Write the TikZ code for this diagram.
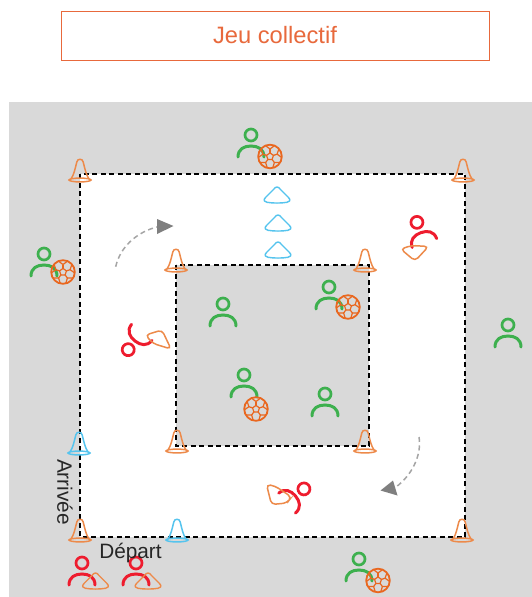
\documentclass[tikz,border=0pt]{standalone}
\usepackage{fontspec}
\setmainfont{Liberation Sans}
\definecolor{bgg}{HTML}{D9D9D9}
\definecolor{ttl}{HTML}{E8693C}
\definecolor{cor}{HTML}{ED8A4A}
\definecolor{cbl}{HTML}{55C4EE}
\definecolor{pgr}{HTML}{3DB04E}
\definecolor{pre}{HTML}{EE1C2E}
\definecolor{bor}{HTML}{E9671F}
\definecolor{agr}{HTML}{7F7F7F}
\tikzset{
  pics/person/.style={code={
    \draw[#1,line width=3pt,line cap=round] (-13,11) .. controls (-13,3) and (-7,0) .. (0,0) .. controls (7,0) and (13,3) .. (13,11);
    \draw[#1,line width=2.7pt] (0,-11) circle [radius=6pt];
  }},
  pics/tallcone/.style={code={
    \draw[#1,line width=1.5pt,line join=round] (-9,20) .. controls (-6,16) and (-4.5,8) .. (-3.2,3) .. controls (-2.5,-0.7) and (2.5,-0.7) .. (3.2,3) .. controls (4.5,8) and (6,16) .. (9,20);
    \draw[#1,line width=1.5pt] (0,21) ellipse [x radius=11pt,y radius=1.9pt];
  }},
  pics/flatcone/.style={code={
    \draw[#1,line width=1.4pt,line join=round] (-3,2) .. controls (-1.5,-0.6) and (1.5,-0.6) .. (3,2) -- (11.5,10.5) .. controls (14.5,13.5) and (12,15) .. (10,15.3) .. controls (4,16.3) and (-4,16.3) .. (-10,15.3) .. controls (-12,15) and (-14.5,13.5) .. (-11.5,10.5) -- cycle;
  }},
  pics/ball/.style={code={
    \draw[bor,line width=1.8pt] (0,0) circle [radius=11.8pt];
    \draw[bor,line width=1.2pt] (90:3.6pt) -- (162:3.6pt) -- (234:3.6pt) -- (306:3.6pt) -- (18:3.6pt) -- cycle;
    \foreach \a in {90,162,234,306,18}{
      \draw[bor,line width=1.2pt] (\a:3.6pt) -- (\a:7.5pt);
      \draw[bor,line width=1.2pt] (\a-22:11.5pt) -- (\a:7.5pt) -- (\a+22:11.5pt);
    }
  }},
  heldcone/.style={cor,line width=1.5pt,rounded corners=4pt},
  fieldline/.style={black,line width=1.1pt,dash pattern=on 5pt off 3.5pt},
  turn/.style={agr!70,line width=1.5pt,dash pattern=on 5pt off 3.5pt},
  turnhead/.style={agr,fill=agr,draw=none},
  lab/.style={inner sep=0pt,font=\fontsize{20.8}{24}\selectfont,text=black!85}
}
\begin{document}
\begin{tikzpicture}[x=1pt,y=-1pt]
\useasboundingbox (0,0) rectangle (532,597);
\fill[white] (0,0) rectangle (532,597);
\node[draw=ttl,line width=0.8pt,minimum width=428pt,minimum height=49pt,inner sep=0pt,text=ttl,font=\fontsize{23.7}{28}\selectfont] (title) at (275,35.5) {Jeu collectif};
\fill[bgg] (9,102) rectangle (532,597);
\coordinate (oTL) at (80,174); \coordinate (oBR) at (465,537);
\coordinate (iTL) at (176,265); \coordinate (iBR) at (369,446);
\fill[white] (oTL) rectangle (oBR);
\fill[bgg] (iTL) rectangle (iBR);
\draw[fieldline] (oTL) rectangle (oBR);
\draw[fieldline] (iTL) rectangle (iBR);
% tall cones
\foreach \p/\c in {{80,159}/cor,{463,159}/cor,{176,249}/cor,{365,249}/cor,{177,430}/cor,{365,430}/cor,{80,519}/cor,{462,519}/cor,{79,432}/cbl,{177,519}/cbl}
  \pic at (\p) {tallcone=\c};
% flat blue cones
\foreach \p in {{277,187},{278,215},{278,242}}
  \pic at (\p) {flatcone=cbl};
% green players with ball
\foreach \p/\b in {{251,146}/{270,156.5},{44,265}/{63,272},{329,298}/{348,307},{244,386}/{256,409},{359,570}/{378,580.5}}{
  \pic at (\p) {person=pgr};
  \pic at (\b) {ball};
}
% green players
\foreach \p in {{223,315},{325,405},{508,336}}
  \pic at (\p) {person=pgr};
% red players, bottom left
\pic at (82,574) {person=pre};
\pic at (136,574) {person=pre};
\pic at (95.5,573) {flatcone=cor};
\pic at (148,573) {flatcone=cor};
% red players, running
\pic[rotate=20] at (420.7,232.7) {person=pre};
\draw[heldcone] (400.7,249) -- (411.7,245.5) -- (428.5,246.5) -- (415,261) -- cycle;
\pic[rotate=142] at (135,341) {person=pre};
\draw[heldcone] (145.5,335) -- (162,330) -- (171,349) -- (153,343.5) -- cycle;
\pic[rotate=-50] at (295.5,496) {person=pre};
\draw[heldcone] (266.5,484.5) -- (275,486) -- (291.5,497) -- (287,503) -- (271.5,504.5) -- cycle;
% turning arrows
\coordinate (a1s) at (115.7,266.7); \coordinate (a1e) at (157,227);
\draw[turn] (a1s) .. controls (120,247) and (137,232) .. (a1e);
\fill[turnhead] (157,219) -- (173.5,226) -- (157,234) -- cycle;
\coordinate (a2s) at (419,437); \coordinate (a2e) at (396,487);
\draw[turn] (a2s) .. controls (422,455) and (412,475) .. (a2e);
\fill[turnhead] (380.5,490.5) -- (393,480.5) -- (397.5,495.5) -- cycle;
% labels
\node[lab] (dep) at (130.5,552.5) {Départ};
\node[lab,rotate=-90] (arr) at (65,492) {Arrivée};
\end{tikzpicture}
\end{document}
